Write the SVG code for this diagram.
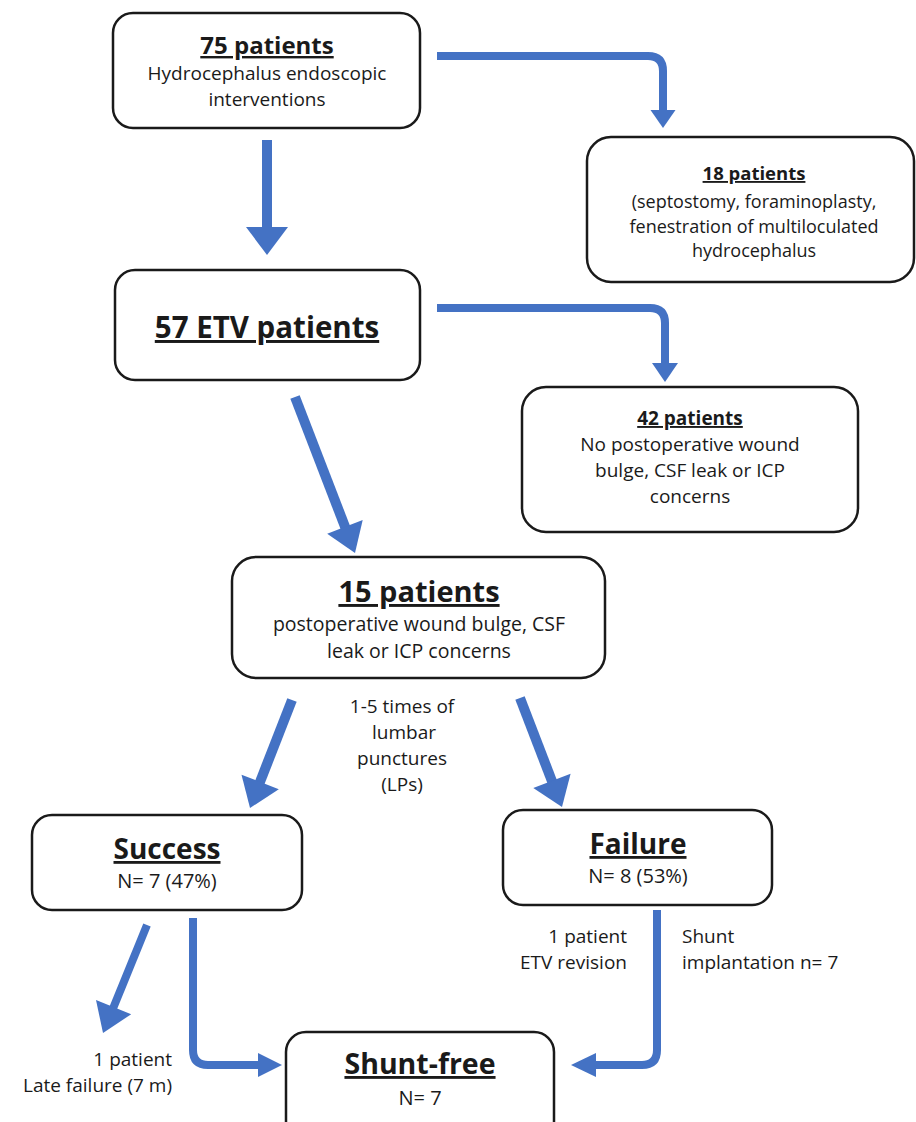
<svg xmlns="http://www.w3.org/2000/svg" width="916" height="1122" viewBox="0 0 916 1122">
<style>
.box{fill:#fff;stroke:#1a1a1a;stroke-width:2.5}
.t{font-family:"Open Sans","Noto Sans",sans-serif;fill:#1a1a1a;text-anchor:middle}
.b{font-weight:bold;text-decoration:underline}
.l{font-family:"Open Sans","Noto Sans",sans-serif;fill:#1a1a1a;font-size:19px}
.sh{fill:none;stroke:#4472C4;stroke-linecap:butt;stroke-linejoin:round}
.hd{fill:#4472C4}
</style>
<rect width="916" height="1122" fill="#fff"/>
<g id="connectors">
  <path class="sh" stroke-width="8" d="M437,56 H648 Q663,56 663,71 V111"/>
  <polygon class="hd" points="650.5,110 675.5,110 663,128"/>
  <path class="sh" stroke-width="10" d="M267,140 V228"/>
  <polygon class="hd" points="246,227 288,227 267,255"/>
  <path class="sh" stroke-width="8" d="M437,308 H650 Q665,308 665,323 V364"/>
  <polygon class="hd" points="652,363 678,363 665,382"/>
  <path class="sh" stroke-width="10" d="M295,397 L345.5,528"/>
  <polygon class="hd" points="327.2,533.7 362.7,520 355,553"/>
  <path class="sh" stroke-width="10" d="M292,700 L259.6,783"/>
  <polygon class="hd" points="278.8,789.2 241.5,774.7 250,808"/>
  <path class="sh" stroke-width="10" d="M520,698 L552.3,782"/>
  <polygon class="hd" points="570.6,773.7 533.3,788.1 562,807"/>
  <path class="sh" stroke-width="8" d="M147,925 L113,1008.5"/>
  <polygon class="hd" points="131.2,1014.2 96,999.9 103,1033"/>
  <path class="sh" stroke-width="8" d="M193,918 V1050 Q193,1065 208,1065 H260"/>
  <polygon class="hd" points="258,1053 258,1077 282,1065"/>
  <path class="sh" stroke-width="8" d="M657,910 V1050 Q657,1065 642,1065 H594"/>
  <polygon class="hd" points="596,1053 596,1077 571,1065"/>
</g>
<g id="n75">
  <rect class="box" x="113" y="13" width="307" height="115" rx="20"/>
  <text class="t b" x="267" y="54" font-size="24">75 patients</text>
  <text class="t" x="267" y="80" font-size="19">Hydrocephalus endoscopic</text>
  <text class="t" x="267" y="106" font-size="19">interventions</text>
</g>
<g id="n18">
  <rect class="box" x="587" y="137" width="327" height="145" rx="24"/>
  <text class="t b" x="754" y="180" font-size="18.5">18 patients</text>
  <text class="t" x="754" y="208" font-size="18">(septostomy, foraminoplasty,</text>
  <text class="t" x="754" y="232.5" font-size="18">fenestration of multiloculated</text>
  <text class="t" x="754" y="257" font-size="18">hydrocephalus</text>
</g>
<g id="n57">
  <rect class="box" x="115" y="270" width="305" height="110" rx="20"/>
  <text class="t b" x="267" y="338" font-size="29.5">57 ETV patients</text>
</g>
<g id="n42">
  <rect class="box" x="522" y="387" width="336" height="145" rx="24"/>
  <text class="t b" x="690" y="425" font-size="19">42 patients</text>
  <text class="t" x="690" y="451" font-size="19">No postoperative wound</text>
  <text class="t" x="690" y="477" font-size="19">bulge, CSF leak or ICP</text>
  <text class="t" x="690" y="503" font-size="19">concerns</text>
</g>
<g id="n15">
  <rect class="box" x="232" y="557" width="373" height="121" rx="24"/>
  <text class="t b" x="419" y="602" font-size="29">15 patients</text>
  <text class="t" x="419" y="631" font-size="19.5">postoperative wound bulge, CSF</text>
  <text class="t" x="419" y="658" font-size="19.5">leak or ICP concerns</text>
</g>
<g id="lp-label">
  <text class="t" x="402" y="713" font-size="19">1-5 times of</text>
  <text class="t" x="404" y="739" font-size="19">lumbar</text>
  <text class="t" x="402" y="765" font-size="19">punctures</text>
  <text class="t" x="402" y="791" font-size="19">(LPs)</text>
</g>
<g id="success">
  <rect class="box" x="32" y="815" width="270" height="95" rx="20"/>
  <text class="t b" x="167" y="859" font-size="28">Success</text>
  <text class="t" x="167" y="888" font-size="20">N= 7 (47%)</text>
</g>
<g id="failure">
  <rect class="box" x="503" y="810" width="269" height="95" rx="20"/>
  <text class="t b" x="638" y="854" font-size="28">Failure</text>
  <text class="t" x="638" y="883" font-size="20">N= 8 (53%)</text>
</g>
<g id="shuntfree">
  <rect class="box" x="286" y="1032" width="268" height="110" rx="20"/>
  <text class="t b" x="420" y="1074" font-size="28.5">Shunt-free</text>
  <text class="t" x="420" y="1105" font-size="20">N= 7</text>
</g>
<g id="labels">
  <text class="l" x="627" y="943" text-anchor="end">1 patient</text>
  <text class="l" x="627" y="969" text-anchor="end">ETV revision</text>
  <text class="l" x="682" y="943">Shunt</text>
  <text class="l" x="682" y="969">implantation n= 7</text>
  <text class="l" x="172" y="1066" text-anchor="end">1 patient</text>
  <text class="l" x="172" y="1092" text-anchor="end">Late failure (7 m)</text>
</g>
</svg>
